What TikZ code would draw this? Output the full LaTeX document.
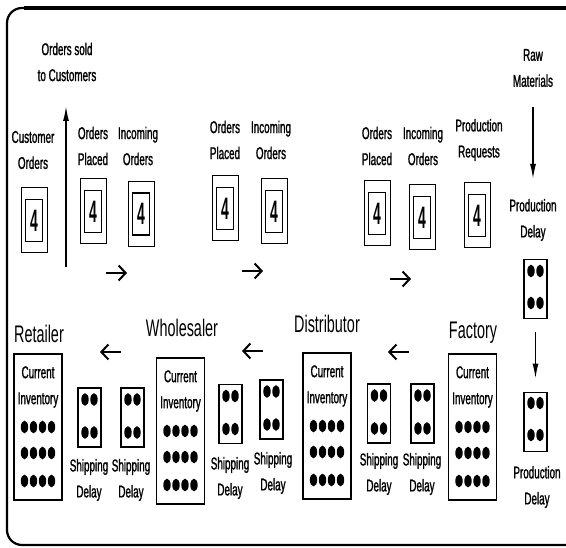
\documentclass[tikz,border=0pt]{standalone}
\usepackage{fontspec}
\setmainfont[FakeStretch=0.58,FakeBold=1.2]{Liberation Sans}
\newfontfamily\bigfont[FakeStretch=0.6]{Liberation Sans}
\newfontfamily\digitfont[FakeStretch=0.45]{Liberation Sans}
\usetikzlibrary{arrows.meta,shapes.geometric}

\tikzset{
 lbl/.style={align=center,inner sep=0pt,font=\fontsize{17}{26}\selectfont},
 big/.style={inner sep=0pt,anchor=base,font=\bigfont\fontsize{24}{26}\selectfont},
 outerbox/.style={draw,line width=1pt,minimum width=26pt,minimum height=65pt,inner sep=0pt},
 innerbox/.style={draw,line width=1.6pt,minimum width=17pt,minimum height=42pt,inner sep=0pt,font=\digitfont\bfseries\fontsize{31}{31}\selectfont},
 invbox/.style={draw,line width=1.6pt,minimum width=48pt,minimum height=146pt,inner sep=0pt},
 shipbox/.style={draw,line width=1.6pt,minimum width=23pt,minimum height=59pt,inner sep=0pt},
 harrow/.style={line width=2pt,-{Straight Barb[length=7pt,width=15pt]}},
 varrow/.style={line width=1.5pt,-{Latex[length=15pt,width=6pt]}},
}

\newcommand\orderbox[3]{%
  \node[outerbox] (#1) at (#2,#3) {};
  \node[innerbox] (#1i) at (#2,#3) {4};
}
\newcommand\invent[3]{%
  \node[invbox,anchor=north] (#1) at (#2,#3) {};
  \node[lbl] (#1t) at (#2,#3+34) {Current\\Inventory};
  \foreach \r in {74,100,128} \foreach \c in {-13.5,-4.5,4.5,13.5}
    \fill (#2+\c,#3+\r) ellipse [x radius=3.7, y radius=6.3];
}
\newcommand\shipping[5]{%
  \node[shipbox] (#1) at (#2,#3) {};
  \foreach \c in {-4.5,4.5} {
    \fill (#2+\c,#3-18) ellipse [x radius=3.7, y radius=6.3];
    \fill (#2+\c,#3+15) ellipse [x radius=3.7, y radius=6.3];
  }
  \node[lbl] (#1t) at (#4,#5) {Shipping\\Delay};
}

\begin{document}
\begin{tikzpicture}[x=1pt,y=-1pt]
\useasboundingbox (0,0) rectangle (566,548);

% frame
\draw[line width=2.2pt,rounded corners=15pt] (566,8) -- (7,8) -- (7,545) -- (566,545);
\draw[line width=3.5pt] (24,8) -- (566,8);

% top texts
\node[lbl] (sold) at (67,62) {Orders sold\\to Customers};
\node[lbl] (custt) at (33,150) {Customer\\Orders};
\orderbox{cust}{34}{220.5}

\coordinate (upS) at (66,267);
\coordinate (upE) at (66,106);
\draw[varrow] (upS) -- (upE);

% retailer orders
\node[lbl] (ropt) at (93,146) {Orders\\Placed};
\orderbox{rop}{93}{211.5}
\node[lbl] (riot) at (138,146) {Incoming\\Orders};
\orderbox{rio}{141}{214}

% wholesaler orders
\node[lbl] (wopt) at (225,140) {Orders\\Placed};
\orderbox{wop}{225}{208.5}
\node[lbl] (wiot) at (271,140) {Incoming\\Orders};
\orderbox{wio}{274}{211.5}

% distributor orders
\node[lbl] (dopt) at (377,146) {Orders\\Placed};
\orderbox{dop}{377}{213.5}
\node[lbl] (diot) at (423,146) {Incoming\\Orders};
\orderbox{dio}{422}{217.5}

% factory
\node[lbl] (prqt) at (479,140) {Production\\Requests};
\orderbox{prq}{477}{215.5}

\node[lbl] (raw) at (533,68) {Raw\\Materials};
\node[lbl] (pd1t) at (533,220) {Production\\Delay};
\coordinate (dnS) at (533,107);
\coordinate (dnE) at (533,179);
\draw[varrow] (dnS) -- (dnE);

\node[shipbox] (pd1) at (535.5,289) {};
\node[shipbox] (pd2) at (535.5,422) {};
\foreach \c in {-4.5,4.5} {
  \fill (535.5+\c,289-18) ellipse [x radius=3.7, y radius=6.3];
  \fill (535.5+\c,289+14) ellipse [x radius=3.7, y radius=6.3];
  \fill (535.5+\c,422-19) ellipse [x radius=3.7, y radius=6.3];
  \fill (535.5+\c,422+13) ellipse [x radius=3.7, y radius=6.3];
}
\draw[varrow,shorten <=13pt,shorten >=13pt] (pd1) -- (pd2);
\node[lbl] (pd2t) at (537,487) {Production\\Delay};

% right arrows
\coordinate (a1s) at (106,273); \coordinate (a1e) at (127,273);
\coordinate (a2s) at (242,271); \coordinate (a2e) at (263,271);
\coordinate (a3s) at (390,279); \coordinate (a3e) at (411,279);
\draw[harrow] (a1s) -- (a1e);
\draw[harrow] (a2s) -- (a2e);
\draw[harrow] (a3s) -- (a3e);

% left arrows
\coordinate (b1s) at (121,352); \coordinate (b1e) at (100,352);
\coordinate (b2s) at (263,351); \coordinate (b2e) at (242,351);
\coordinate (b3s) at (409,352); \coordinate (b3e) at (388,352);
\draw[harrow] (b1s) -- (b1e);
\draw[harrow] (b2s) -- (b2e);
\draw[harrow] (b3s) -- (b3e);

% bottom row
\node[big] (retl) at (39,343) {Retailer};
\invent{ret}{38}{353}
\shipping{rs1}{89.5}{417.5}{89}{480}
\shipping{rs2}{132.5}{417.5}{131}{480}

\node[big] (whl) at (182,337) {Wholesaler};
\invent{wh}{180.5}{357}
\shipping{ws1}{230.5}{414}{230}{478}
\shipping{ws2}{271.5}{409.5}{273}{473}

\node[big] (dsl) at (327,333) {Distributor};
\invent{ds}{327}{352}
\shipping{ds1}{379}{413.5}{379}{474}
\shipping{ds2}{422.5}{413.5}{422}{474}

\node[big] (fcl) at (473,339) {Factory};
\invent{fc}{472.5}{353}
\end{tikzpicture}
\end{document}
